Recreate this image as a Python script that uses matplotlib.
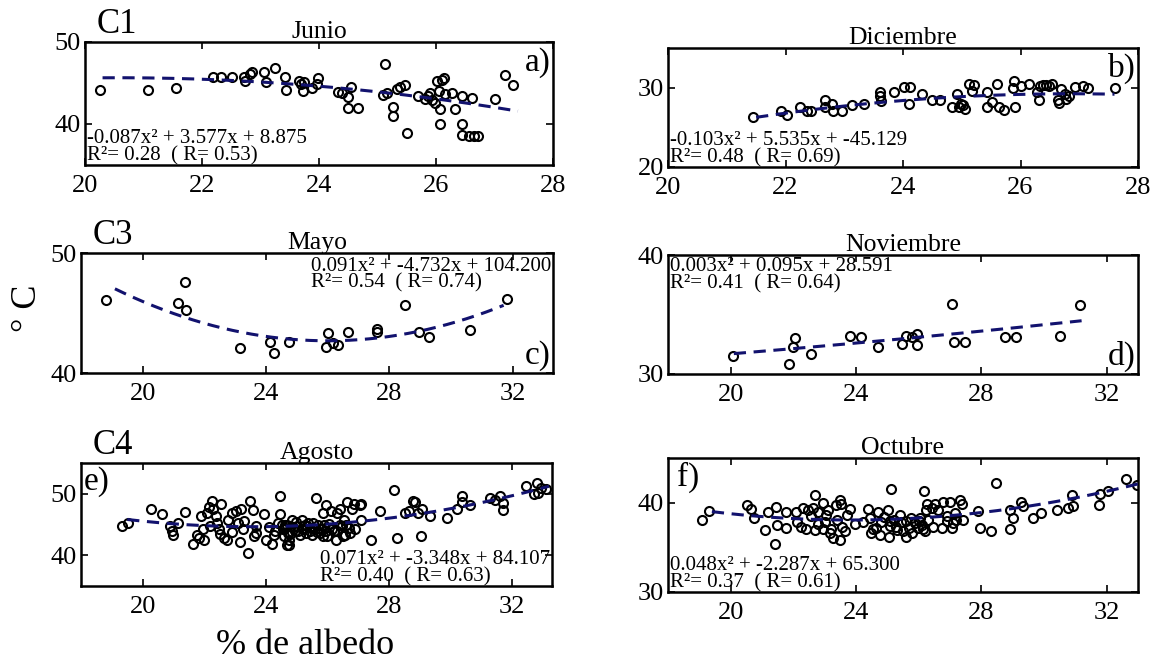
import matplotlib
matplotlib.use("Agg")
import matplotlib.pyplot as plt
import numpy as np

plt.rcParams['font.family'] = ['Liberation Serif', 'DejaVu Serif']

# ---------------- data ----------------
junio_x = [20.25, 21.08, 21.56, 22.19, 22.33, 22.52, 22.71, 22.74, 22.82, 22.85, 23.06, 23.10, 23.24, 23.42, 23.43,
           23.66, 23.70, 23.72, 23.74, 23.88, 23.96, 23.98, 24.32, 24.40, 24.50, 24.54, 24.50, 24.66, 25.13, 25.10,
           25.17, 25.27, 25.27, 25.33, 25.38, 25.47, 25.50, 25.70, 25.82, 25.87, 25.90, 25.93, 25.99, 26.02, 26.10,
           26.13, 26.05, 26.07, 26.06, 26.16, 26.28, 26.33, 26.45, 26.45, 26.45, 26.56, 26.65, 26.71, 26.62, 27.00,
           27.18, 27.31]
junio_y = [44.1, 44.2, 44.4, 45.7, 45.7, 45.7, 45.7, 45.2, 46.1, 46.3, 46.4, 45.1, 46.8, 45.7, 44.1,
           45.2, 44.9, 44.0, 45.1, 44.4, 44.9, 45.6, 43.9, 43.8, 43.3, 44.5, 42.0, 41.9, 47.3, 43.5,
           43.8, 42.1, 41.0, 44.3, 44.5, 44.7, 38.9, 43.4, 43.1, 43.4, 43.8, 42.9, 42.6, 45.2, 45.4,
           45.6, 44.0, 41.8, 40.0, 43.6, 43.8, 41.8, 43.4, 40.0, 38.6, 38.5, 38.5, 38.5, 43.2, 43.0,
           46.0, 44.8]

dic_x = [21.44, 21.93, 22.02, 22.25, 22.36, 22.43, 22.67, 22.67, 22.79, 22.81, 22.96, 23.13, 23.33, 23.60, 23.61,
         23.62, 23.84, 24.01, 24.12, 24.10, 24.32, 24.49, 24.63, 24.83, 24.95, 24.99, 24.92, 25.12, 25.20, 25.18,
         25.43, 25.43, 25.52, 25.60, 25.63, 25.89, 25.88, 25.90, 26.00, 26.14, 26.28, 26.31, 26.34, 26.39, 26.44,
         26.49, 26.54, 26.63, 26.66, 26.69, 26.75, 26.92, 27.06, 27.15, 27.60, 25.05, 25.02, 26.78, 26.82, 25.72]
dic_y = [26.25, 27.1, 26.5, 27.6, 27.0, 27.1, 28.5, 27.5, 27.9, 27.1, 27.1, 27.8, 27.9, 29.4, 29.0,
         28.3, 29.5, 30.1, 30.1, 27.9, 29.25, 28.4, 28.4, 27.5, 27.5, 27.9, 29.2, 30.5, 30.3, 29.6,
         29.4, 27.5, 28.25, 30.4, 27.5, 30.9, 29.9, 27.6, 30.2, 30.4, 29.5, 28.4, 30.2, 30.3, 30.3,
         30.2, 30.4, 28.5, 28.1, 29.8, 29.2, 30.1, 30.2, 29.9, 30.0, 27.3, 27.8, 28.6, 28.9, 27.2]

mayo_x = [18.81, 21.15, 21.36, 21.39, 23.15, 24.12, 24.27, 24.73, 25.94, 26.00, 26.18, 26.33, 26.67, 27.58,
          27.58, 28.50, 28.95, 29.27, 30.60, 31.80]
mayo_y = [46.1, 45.8, 47.6, 45.25, 42.1, 42.6, 41.65, 42.6, 42.15, 43.3, 42.5, 42.35, 43.4, 43.7,
          43.4, 45.7, 43.4, 43.0, 43.6, 46.2]

nov_x = [20.06, 21.87, 21.99, 22.04, 22.55, 23.80, 24.15, 24.70, 25.47, 25.58, 25.78, 25.96, 25.96, 27.07,
         27.13, 27.48, 28.76, 29.11, 30.50, 31.15]
nov_y = [31.5, 30.8, 32.3, 33.0, 31.7, 33.2, 33.15, 32.3, 32.5, 33.2, 33.15, 33.4, 32.4, 35.9,
         32.65, 32.65, 33.1, 33.15, 33.2, 35.8]

ago_x = [19.32, 19.53, 20.28, 20.63, 20.89, 20.95, 21.00, 21.16, 21.37, 21.63, 21.76, 21.84, 21.89, 22.00, 21.95,
         22.10, 22.16, 22.26, 22.28, 22.37, 22.42, 22.47, 22.56, 22.63, 22.74, 22.79, 22.89, 23.05, 23.10, 23.16,
         23.21, 23.26, 23.42, 23.50, 23.58, 23.61, 23.68, 23.95, 24.00, 24.10, 24.21, 24.28, 24.45, 24.47, 24.53,
         24.58, 24.63, 24.68, 24.74, 24.64, 24.75, 24.75, 24.85, 24.96, 25.01, 25.12, 25.17, 25.27, 25.38, 25.43,
         25.59, 25.64, 25.69, 25.75, 25.85, 25.90, 25.96, 26.00, 26.11, 26.22, 26.27, 26.33, 26.41, 26.48, 26.54,
         26.59, 26.64, 26.69, 26.80, 26.87, 27.06, 27.08, 27.11, 27.43, 27.70, 28.17, 28.25, 28.54, 28.64, 28.80,
         28.85, 28.96, 29.04, 29.07, 29.33, 29.88, 30.22, 30.38, 30.38, 30.64, 31.28, 31.45, 31.60, 31.70, 31.72,
         32.45, 32.70, 32.80, 32.85, 32.95, 33.10,
         24.30, 24.40, 24.55, 24.70, 24.80, 24.90, 25.00, 25.05, 25.20, 25.30, 25.35, 25.50, 25.55, 25.65, 25.80,
         25.85, 25.95, 26.05, 26.15, 26.30, 26.40, 26.50, 26.60, 26.75, 26.90, 22.50, 22.90, 23.30, 23.70, 22.20]
ago_y = [44.7, 45.2, 47.6, 46.7, 44.7, 43.9, 43.3, 45.3, 47.1, 41.9, 43.3, 42.8, 46.4, 42.5, 44.2,
         46.9, 47.9, 48.9, 47.6, 46.4, 45.2, 44.2, 48.3, 42.8, 42.4, 45.8, 46.9, 47.2, 45.3, 42.2,
         47.5, 44.2, 40.4, 48.8, 47.4, 43.2, 44.7, 46.7, 42.5, 44.6, 41.9, 43.3, 49.7, 46.7, 45.0,
         43.1, 44.4, 41.7, 43.6, 45.0, 42.5, 41.7, 45.8, 43.9, 44.7, 43.3, 45.8, 45.0, 45.3, 43.9,
         44.2, 49.3, 45.0, 43.6, 46.9, 45.0, 48.1, 43.1, 47.2, 43.9, 42.5, 46.9, 47.6, 44.7, 45.8,
         43.3, 48.6, 44.4, 47.5, 48.3, 48.1, 45.8, 48.3, 42.5, 47.2, 50.6, 42.8, 46.9, 47.2, 48.9,
         48.6, 46.9, 43.1, 47.5, 46.4, 46.1, 47.5, 49.7, 48.6, 48.1, 49.3, 49.0, 49.6, 48.5, 47.4,
         51.2, 49.9, 51.8, 50.2, 50.9, 50.7,
         44.0, 45.3, 44.2, 44.9, 43.4, 44.6, 45.4, 43.9, 44.3, 43.6, 44.8, 43.3, 45.2, 43.8, 44.3,
         43.2, 44.0, 45.1, 44.2, 43.9, 45.0, 43.2, 44.9, 43.6, 44.2, 43.5, 43.8, 45.5, 43.6, 44.8]

oct_x = [19.08, 19.32, 20.51, 20.65, 20.76, 21.11, 21.18, 21.45, 21.47, 21.75, 21.75, 21.40, 22.09, 22.11, 22.25,
         22.30, 22.41, 22.46, 22.57, 22.62, 22.68, 22.68, 22.78, 22.94, 22.94, 23.05, 23.10, 23.16, 23.21, 23.26,
         23.37, 23.48, 23.48, 23.53, 23.56, 23.64, 23.80, 23.96, 24.22, 24.38, 24.44, 24.49, 24.54, 24.70, 24.65,
         24.75, 25.02, 25.07, 25.05, 25.13, 25.29, 25.39, 25.50, 25.61, 25.77, 25.87, 25.98, 26.03, 26.14, 26.16,
         26.22, 26.25, 26.41, 26.46, 26.51, 26.62, 26.73, 26.78, 26.89, 26.99, 27.05, 27.15, 27.20, 27.33, 27.37,
         27.42, 27.90, 27.95, 28.32, 28.46, 28.91, 28.91, 29.02, 29.28, 29.34, 29.66, 29.92, 30.40, 30.78, 30.88,
         30.92, 31.75, 31.80, 32.04, 32.63, 32.98,
         24.80, 24.90, 25.10, 25.20, 25.30, 25.45, 25.60, 25.70, 25.80, 26.00, 26.10, 26.20, 26.30, 23.00, 22.80,
         23.40, 23.70, 27.10, 26.90]
oct_y = [38.1, 39.05, 39.7, 39.3, 38.3, 36.95, 38.98, 39.5, 37.5, 38.9, 37.2, 35.4, 38.9, 37.8, 37.3,
         39.4, 37.1, 39.15, 38.5, 39.4, 40.85, 36.95, 37.6, 40.0, 37.1, 38.6, 39.15, 36.6, 37.1, 36.1,
         39.7, 40.3, 35.8, 39.8, 37.3, 36.8, 39.3, 37.6, 37.8, 39.3, 38.3, 36.6, 37.1, 39.0, 37.15,
         36.4, 39.2, 37.9, 36.2, 41.5, 37.3, 38.6, 36.8, 36.2, 38.3, 37.7, 37.15, 38.3, 37.0, 41.3,
         39.2, 39.9, 39.4, 37.3, 39.9, 39.2, 37.15, 40.1, 37.9, 40.1, 37.15, 38.8, 38.1, 40.3, 39.9,
         38.1, 39.1, 37.15, 36.8, 42.2, 39.2, 37.0, 38.3, 40.1, 39.6, 38.3, 38.8, 39.2, 39.45, 40.9,
         39.6, 39.7, 41.0, 41.3, 42.7, 42.0,
         37.8, 38.4, 37.4, 38.1, 36.9, 37.8, 38.0, 37.2, 36.6, 38.0, 37.5, 36.8, 38.1, 37.8, 38.9,
         38.1, 38.6, 37.7, 38.5]

titles = ["Junio", "Diciembre", "Mayo", "Noviembre", "Agosto", "Octubre"]
panel_tags = ["a)", "b)", "c)", "d)", "e)", "f)"]
group_tags = ["C1", None, "C3", None, "C4", None]
coefs = [[-0.087, 3.577, 8.875], [-0.103, 5.535, -45.129], [0.091, -4.732, 104.200],
         [0.003, 0.095, 28.591], [0.071, -3.348, 84.107], [0.048, -2.287, 65.300]]
fit_ranges = [[20.3, 27.4], [21.5, 27.6], [19.1, 31.7], [20.1, 31.2], [19.5, 33.2], [19.4, 33.0]]
eq_text = ["-0.087x\u00b2 + 3.577x + 8.875\nR\u00b2= 0.28  ( R= 0.53)",
           "-0.103x\u00b2 + 5.535x + -45.129\nR\u00b2= 0.48  ( R= 0.69)",
           "0.091x\u00b2 + -4.732x + 104.200\nR\u00b2= 0.54  ( R= 0.74)",
           "0.003x\u00b2 + 0.095x + 28.591\nR\u00b2= 0.41  ( R= 0.64)",
           "0.071x\u00b2 + -3.348x + 84.107\nR\u00b2= 0.40  ( R= 0.63)",
           "0.048x\u00b2 + -2.287x + 65.300\nR\u00b2= 0.37  ( R= 0.61)"]
xs_all = [junio_x, dic_x, mayo_x, nov_x, ago_x, oct_x]
ys_all = [junio_y, dic_y, mayo_y, nov_y, ago_y, oct_y]
xlims = [(20, 28), (20, 28), (18, 33.3), (18, 33), (18, 33.3), (18, 33)]
xticks = [[20, 22, 24, 26, 28], [20, 22, 24, 26, 28], [20, 24, 28, 32], [20, 24, 28, 32], [20, 24, 28, 32], [20, 24, 28, 32]]
ylims = [(35, 50), (20, 35), (40, 50), (30, 40), (35, 55), (30, 45)]
yticks = [[40, 50], [20, 30], [40, 50], [30, 40], [40, 50], [30, 40]]

# ---------------- layout ----------------
W, H = 1154, 663
boxes = [(85, 553, 42, 165), (668, 1138, 48, 167), (81, 553, 253, 373),
         (668, 1138, 255, 374), (81, 552, 463, 586), (668, 1138, 458, 592)]
# text placement (x, y, ha, va) in axes fraction
eq_pos = [(0.004, 0.0, 'left', 'bottom'), (0.004, 0.0, 'left', 'bottom'), (0.996, 0.97, 'right', 'top'),
          (0.004, 0.98, 'left', 'top'), (0.996, 0.0, 'right', 'bottom'), (0.004, 0.0, 'left', 'bottom')]
tag_pos = [(0.995, 0.96, 'right', 'top'), (0.995, 0.96, 'right', 'top'), (0.995, 0.02, 'right', 'bottom'),
           (0.995, 0.02, 'right', 'bottom'), (0.005, 0.97, 'left', 'top'), (0.02, 0.97, 'left', 'top')]

fig = plt.figure(figsize=(W / 100, H / 100), dpi=100)
navy = '#12126e'

for i in range(6):
    l, r, t, b = boxes[i]
    ax = fig.add_axes([l / W, 1 - b / H, (r - l) / W, (b - t) / H])
    ax.plot(xs_all[i], ys_all[i], linestyle='none', marker='o', markersize=6.5,
            markerfacecolor='none', markeredgecolor='black', markeredgewidth=1.5, zorder=3)
    xf = np.linspace(fit_ranges[i][0], fit_ranges[i][1], 200)
    ax.plot(xf, np.polyval(coefs[i], xf), linestyle=(0, (4, 2.5)), color=navy, lw=2.2, zorder=4)
    ax.set_xlim(*xlims[i])
    ax.set_ylim(*ylims[i])
    ax.set_xticks(xticks[i])
    ax.set_yticks(yticks[i])
    ax.tick_params(direction='in', top=True, right=True, length=5, width=1.2, labelsize=19)
    ax.tick_params(axis='x', pad=7)
    ax.tick_params(axis='y', pad=3)
    for s in ax.spines.values():
        s.set_linewidth(1.8)
    ax.set_title(titles[i], fontsize=18.5, pad=3)
    ex, ey, eha, eva = eq_pos[i]
    ax.text(ex, ey, eq_text[i], transform=ax.transAxes, ha=eha, va=eva, fontsize=15,
            linespacing=0.85, multialignment='left', zorder=5)
    tx, ty, tha, tva = tag_pos[i]
    ax.text(tx, ty, panel_tags[i], transform=ax.transAxes, ha=tha, va=tva, fontsize=24, zorder=5)
    if group_tags[i]:
        ax.text(0.025, 1.01, group_tags[i], transform=ax.transAxes, ha='left', va='bottom', fontsize=25)

fig.text(28 / W, 1 - 308 / H, '\u00b0 C', rotation=90, ha='center', va='center', fontsize=26)
fig.text(305 / W, 1 - 645 / H, '% de albedo', ha='center', va='center', fontsize=26)

fig.savefig('out.png', dpi=100)
